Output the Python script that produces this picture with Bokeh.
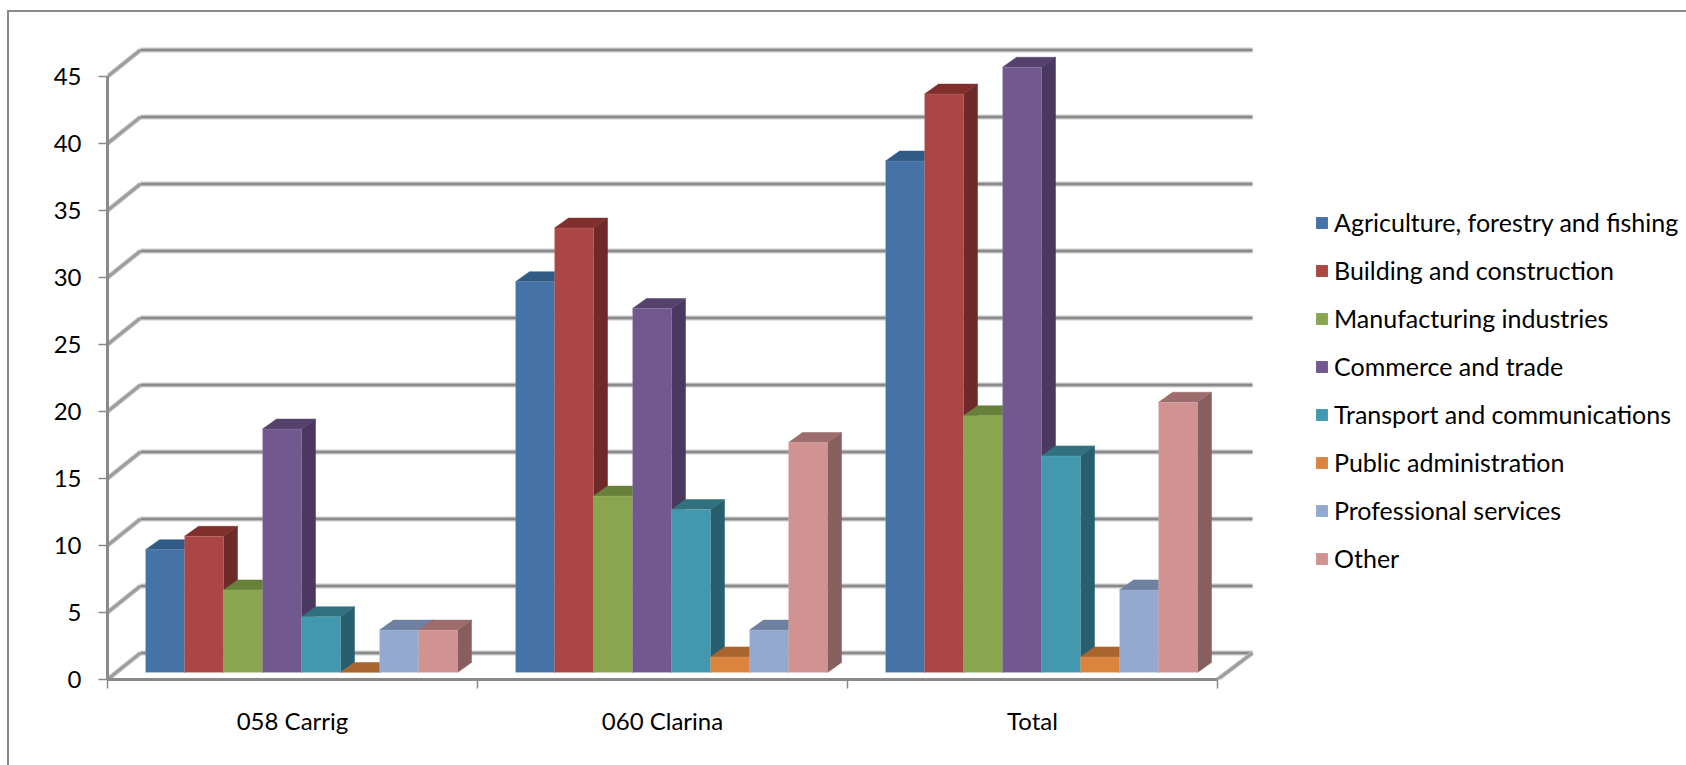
from bokeh.plotting import figure
from bokeh.embed import file_html
from bokeh.resources import INLINE
from bokeh.core.properties import value
from bokeh.models import (ColumnDataSource, FixedTicker, Legend, LegendItem, Range1d)

# ---- data ----
categories = ["058 Carrig", "060 Clarina", "Total"]
series_names = ["Agriculture, forestry and fishing", "Building and construction",
                "Manufacturing industries", "Commerce and trade",
                "Transport and communications", "Public administration",
                "Professional services", "Other"]
agriculture = [9, 29, 38]
building = [10, 33, 43]
manufacturing = [6, 13, 19]
commerce = [18, 27, 45]
transport = [4, 12, 16]
public_admin = [0, 1, 1]
professional = [3, 3, 6]
other = [3, 17, 20]
all_series = [agriculture, building, manufacturing, commerce, transport,
              public_admin, professional, other]
y_ticks = [0, 5, 10, 15, 20, 25, 30, 35, 40, 45]

front_colors = ["#4572A7", "#AA4643", "#89A54E", "#71588F", "#4198AF", "#DB843D", "#93A9CF", "#D19392"]
top_colors = ["#315A85", "#812F2D", "#67803A", "#54416C", "#31707F", "#A8652D", "#6E81A0", "#9C6D6C"]
side_colors = ["#2A4D73", "#6D2A28", "#566C30", "#4A3860", "#275F6E", "#8F5525", "#5E6E8A", "#875F5E"]

# ---- layout (pixels) ----
MARGIN_L, MARGIN_T = 9, 12
W, H = 1686 - MARGIN_L, 765 - MARGIN_T
BORDER_L, BORDER_T, BORDER_B = 107 - MARGIN_L, 2, 86
PX_X = 370.0      # pixels per category
PX_Y = 13.4       # pixels per value unit
FONT = "Lato"
GREY = "#8A8A8A"

frame_w = W - BORDER_L
frame_h = H - BORDER_T - BORDER_B

p = figure(width=W, height=H, output_backend="svg", toolbar_location=None,
           x_range=Range1d(0, frame_w / PX_X), y_range=Range1d(0, frame_h / PX_Y),
           min_border_left=BORDER_L, min_border_right=0, min_border_top=BORDER_T,
           min_border_bottom=BORDER_B, outline_line_color=None, background_fill_color="white")
p.grid.visible = False
p.margin = (MARGIN_T, 0, 0, MARGIN_L)
p.styles = {"outline": "2px solid #8A8A8A"}

# ---- 3D walls ----
wall_l = 33 / PX_X
wall_r = 3 + 35 / PX_X
wall_dy = 26.5 / PX_Y

back_xs = [[wall_l, wall_r] for _ in y_ticks]
back_ys = [[t + wall_dy, t + wall_dy] for t in y_ticks]
diag_xs = [[0, wall_l] for _ in y_ticks] + [[3, wall_r]]
diag_ys = [[t, t + wall_dy] for t in y_ticks] + [[0, wall_dy]]

p.multi_line(back_xs, back_ys, line_color="#C9C9C9", line_width=5)
p.multi_line(back_xs, back_ys, line_color=GREY, line_width=2.5)
p.multi_line(diag_xs, diag_ys, line_color="#B4B4B4", line_width=4.5)
p.multi_line(diag_xs, diag_ys, line_color="#9A9A9A", line_width=2)

# ---- bars ----
x0 = 38 / PX_X
bw = 39 / PX_X
dx = 14 / PX_X
dy = 10 / PX_Y
base = 7 / PX_Y
lift = 9.2 / PX_Y

items = []
for s, vals in enumerate(all_series):
    lefts = [g + x0 + s * bw for g in range(len(categories))]
    rights = [l + bw for l in lefts]
    tops = [lift + v if v > 0 else base for v in vals]
    bottoms = [base] * len(vals)
    side_x = [[r, r + dx, r + dx, r] for r in rights]
    side_y = [[b, b + dy, t + dy, t] for b, t in zip(bottoms, tops)]
    top_x = [[l, l + dx, r + dx, r] for l, r in zip(lefts, rights)]
    top_y = [[t, t + dy, t + dy, t] for t in tops]
    p.patches(side_x, side_y, fill_color=side_colors[s], line_color=side_colors[s], line_alpha=0.5)
    p.patches(top_x, top_y, fill_color=top_colors[s], line_color=top_colors[s], line_alpha=0.5)
    src = ColumnDataSource(dict(left=lefts, right=rights, top=tops, bottom=bottoms))
    r = p.quad(left="left", right="right", top="top", bottom="bottom", source=src,
               fill_color=front_colors[s], line_color="#FFFFFF", line_alpha=0.12, line_width=1)
    items.append(LegendItem(label=value(series_names[s]), renderers=[r]))

# ---- axes ----
ya = p.yaxis[0]
ya.bounds = (0, 45)
ya.ticker = FixedTicker(ticks=y_ticks)
ya.axis_line_color = GREY
ya.axis_line_width = 3
ya.major_tick_line_color = GREY
ya.major_tick_line_width = 1.5
ya.major_tick_in = 0
ya.major_tick_out = 9
ya.minor_tick_line_color = None
ya.major_label_standoff = 17
ya.major_label_text_font = FONT
ya.major_label_text_font_size = "24px"
ya.major_label_text_color = "#000000"

xa = p.xaxis[0]
xa.bounds = (0, 3)
xa.ticker = FixedTicker(ticks=[0.5, 1.5, 2.5], minor_ticks=[0, 1, 2, 3])
xa.major_label_overrides = {0.5: categories[0], 1.5: categories[1], 2.5: categories[2]}
xa.axis_line_color = GREY
xa.axis_line_width = 3
xa.major_tick_line_color = None
xa.major_tick_in = 0
xa.major_tick_out = 0
xa.minor_tick_line_color = GREY
xa.minor_tick_line_width = 1.5
xa.minor_tick_in = 0
xa.minor_tick_out = 9
xa.major_label_standoff = 17
xa.major_label_text_font = FONT
xa.major_label_text_font_size = "24px"
xa.major_label_text_color = "#000000"

# ---- legend ----
legend = Legend(items=items, location=(1207, 106), orientation="vertical",
                glyph_width=15, glyph_height=15, label_standoff=5, spacing=18,
                label_height=20, margin=0, padding=0, border_line_alpha=0,
                background_fill_alpha=0, label_text_font=FONT,
                label_text_font_size="25px", label_text_color="#000000")
p.add_layout(legend)

open("out.html", "w").write(file_html(p, INLINE))
